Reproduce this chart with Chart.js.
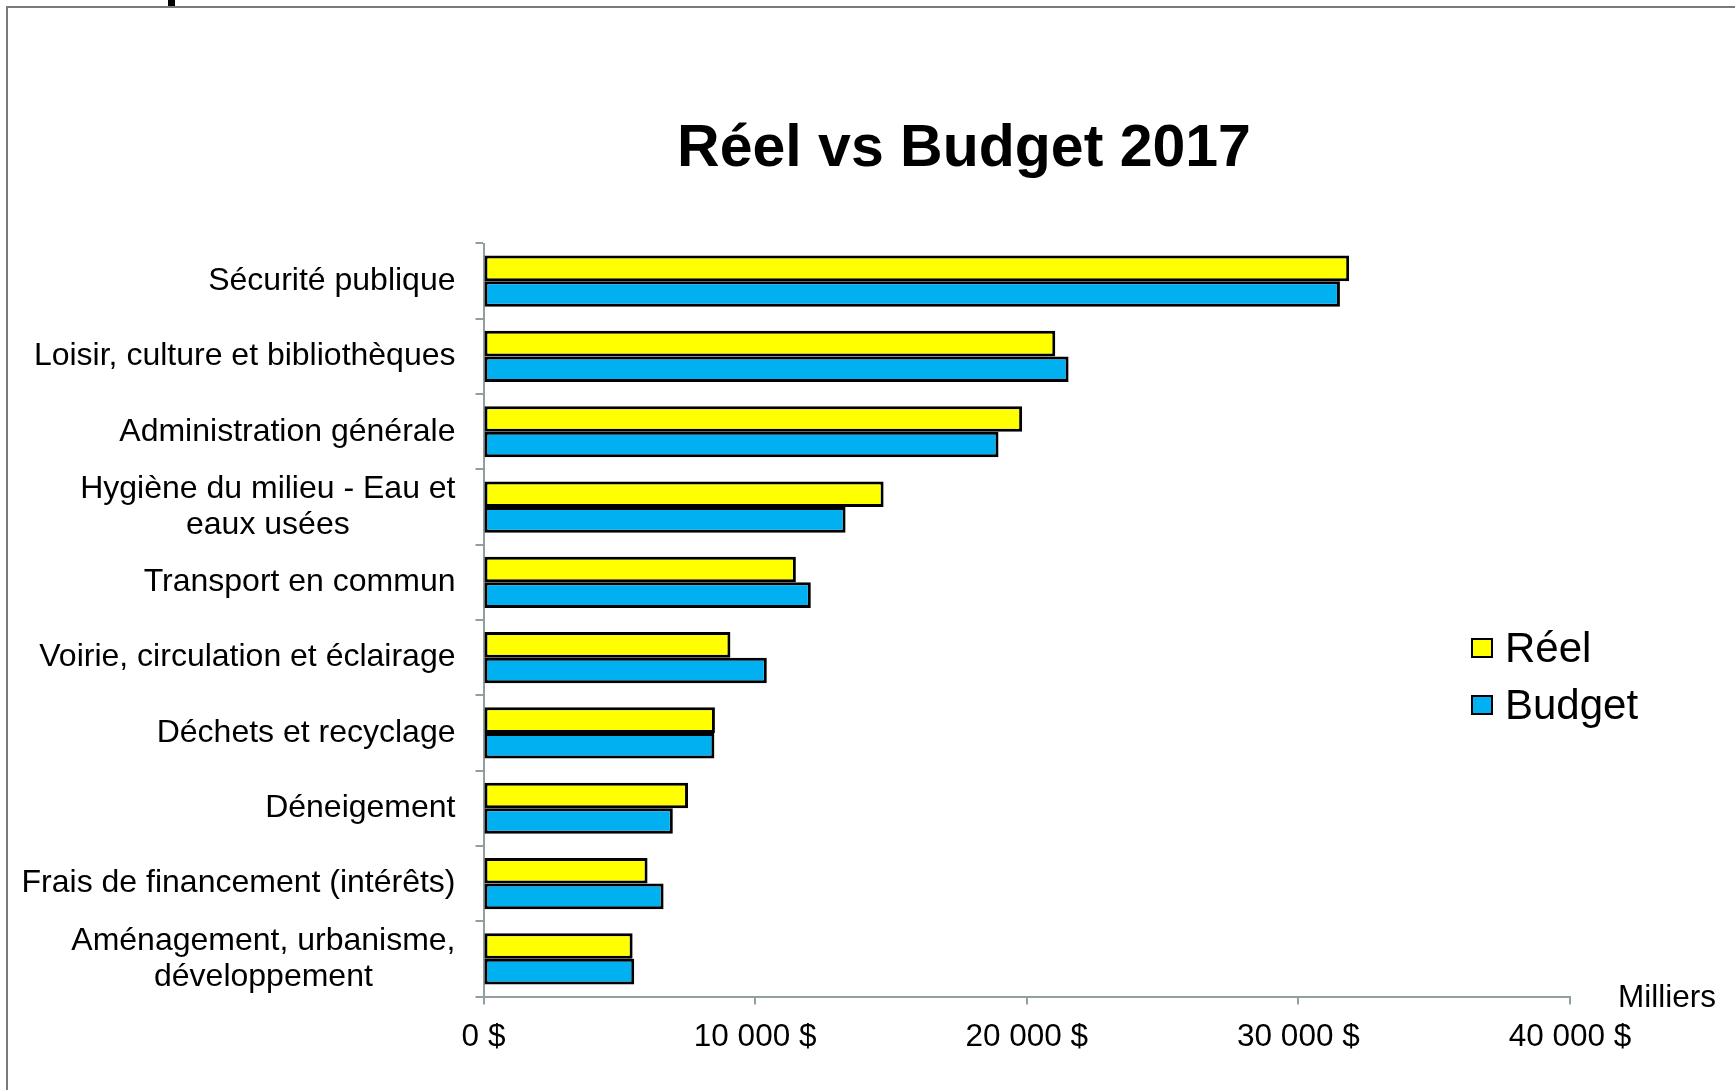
<!DOCTYPE html>
<html lang="fr">
<head>
<meta charset="utf-8">
<title>Réel vs Budget 2017</title>
<script src="https://cdn.jsdelivr.net/npm/chart.js@4.4.1/dist/chart.umd.min.js"></script>
<style>
  html, body { margin: 0; padding: 0; background: #fff; overflow: hidden; }
  body { width: 1735px; height: 1090px; position: relative; font-family: "Liberation Sans", Arial, sans-serif; }
  #frame { position: absolute; left: 6px; top: 6px; width: 1740px; height: 1100px;
           border-left: 2px solid #7a7a7a; border-top: 2px solid #7a7a7a; }
  #cut { position: absolute; left: 168px; top: 0; width: 7px; height: 6px; background: #000; }
  #chart { position: absolute; left: 0; top: 0; }
  #title { position: absolute; left: 964px; top: 117px; transform: translateX(-50%);
           font-weight: bold; font-size: 59px; line-height: 59px; white-space: nowrap; color: #000; }
  #legend { position: absolute; left: 1471px; top: 619px; }
  .item { display: flex; align-items: center; height: 57.5px; font-size: 42px; line-height: 42px; color: #000; }
  .box { width: 18px; height: 16px; border: 2px solid #000; margin-right: 12px; }
  #unit { position: absolute; left: 1618px; top: 981px; font-size: 31.5px; line-height: 31.5px; color: #000; }
</style>
</head>
<body>
<div id="frame"></div>
<div id="cut"></div>
<canvas id="chart" width="1735" height="1090"></canvas>
<div id="title"></div>
<div id="legend"></div>
<div id="unit"></div>
<script>
// data (milliers de $)
const categories = [
  'Sécurité publique',
  'Loisir, culture et bibliothèques',
  'Administration générale',
  ['Hygiène du milieu - Eau et', 'eaux usées'],
  'Transport en commun',
  'Voirie, circulation et éclairage',
  'Déchets et recyclage',
  'Déneigement',
  'Frais de financement (intérêts)',
  ['Aménagement, urbanisme,', 'développement'],
];
const reel   = [31870, 21050, 19830, 14730, 11500, 9090, 8520, 7530, 6040, 5490];
const budget = [31530, 21540, 18960, 13330, 12050, 10430, 8500, 6970, 6630, 5550];
const xTickLabels = ['0 $', '10 000 $', '20 000 $', '30 000 $', '40 000 $'];
const seriesNames = ['Réel', 'Budget'];
const seriesColors = ['#FFFF00', '#00B0F0'];
const chartTitle = 'Réel vs Budget 2017';
const unitLabel = 'Milliers';

const FONT = '"Liberation Sans", Arial, sans-serif';
const AXIS_COLOR = '#909F9F';
const TICK_LEN = 8;
const LABEL_GAP = 20;
const LINE_H = 36;

// category labels: block right-aligned, lines centred inside the block
const categoryLabels = {
  id: 'categoryLabels',
  afterDraw(chart) {
    const y = chart.scales.y;
    const ctx = chart.ctx;
    const right = y.right - TICK_LEN - LABEL_GAP;
    ctx.save();
    ctx.font = '32px ' + FONT;
    ctx.fillStyle = '#000';
    ctx.textAlign = 'center';
    ctx.textBaseline = 'middle';
    categories.forEach((lab, i) => {
      const lines = Array.isArray(lab) ? lab : [lab];
      const w = Math.max(...lines.map(l => ctx.measureText(l).width));
      const mid = y.getPixelForTick(i);
      lines.forEach((line, k) => {
        ctx.fillText(line, right - w / 2, mid + (k - (lines.length - 1) / 2) * LINE_H);
      });
    });
    ctx.restore();
  }
};

const ctx = document.getElementById('chart').getContext('2d');
const chart = new Chart(ctx, {
  type: 'bar',
  data: {
    labels: categories,
    datasets: [
      { label: seriesNames[0], data: reel, backgroundColor: seriesColors[0] },
      { label: seriesNames[1], data: budget, backgroundColor: seriesColors[1] },
    ],
  },
  options: {
    indexAxis: 'y',
    responsive: false,
    animation: false,
    devicePixelRatio: 1,
    layout: { padding: { left: 10, top: 243.5, right: 165, bottom: 20 } },
    datasets: {
      bar: {
        borderColor: '#000',
        borderWidth: 3,
        borderSkipped: false,
        categoryPercentage: 0.68,
        barPercentage: 1.0,
      },
    },
    plugins: {
      legend: { display: false },
      title: { display: false },
      tooltip: { enabled: false },
    },
    scales: {
      x: {
        min: 0,
        max: 40000,
        ticks: {
          stepSize: 10000,
          padding: 14,
          color: '#000',
          font: { family: FONT, size: 31.5 },
          maxRotation: 0,
          callback: (v, i) => xTickLabels[i],
        },
        grid: { drawOnChartArea: false, tickLength: TICK_LEN, color: AXIS_COLOR, lineWidth: 2 },
        border: { color: AXIS_COLOR, width: 2 },
        afterFit: s => { s.height = 73.5; },
      },
      y: {
        ticks: { display: false },
        grid: { drawOnChartArea: false, offset: true, tickLength: TICK_LEN, color: AXIS_COLOR, lineWidth: 2 },
        border: { color: AXIS_COLOR, width: 2 },
        afterFit: s => { s.width = 473.5; },
      },
    },
  },
  plugins: [categoryLabels],
});

document.getElementById('title').textContent = chartTitle;
document.getElementById('unit').textContent = unitLabel;
const legend = document.getElementById('legend');
chart.data.datasets.forEach(ds => {
  const item = document.createElement('div');
  item.className = 'item';
  const box = document.createElement('span');
  box.className = 'box';
  box.style.background = ds.backgroundColor;
  item.appendChild(box);
  item.appendChild(document.createTextNode(ds.label));
  legend.appendChild(item);
});
</script>
</body>
</html>
